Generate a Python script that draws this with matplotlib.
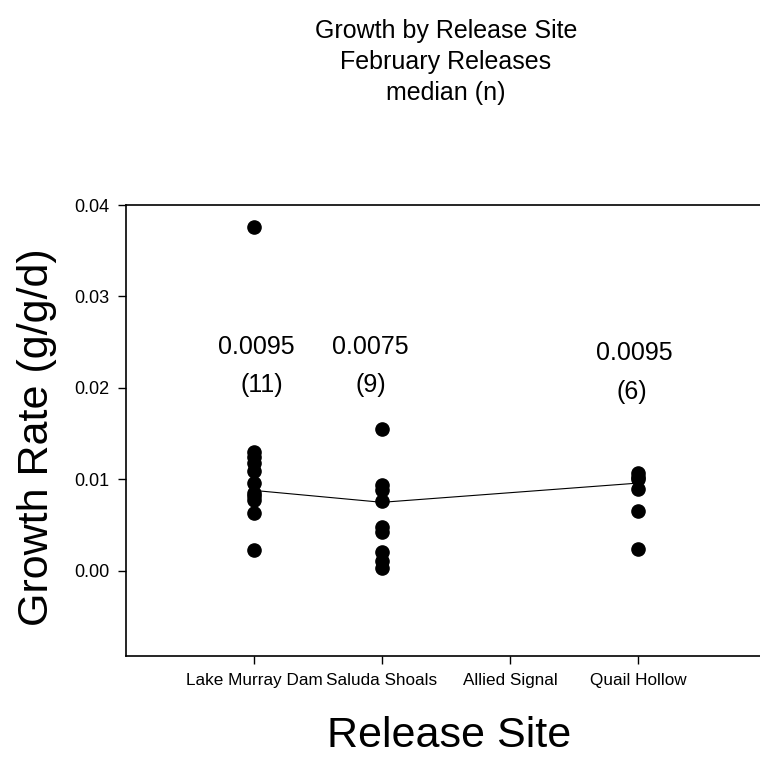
import matplotlib

matplotlib.use('agg')

import matplotlib.pyplot as plt

sites = ['Lake Murray Dam', 'Saluda Shoals', 'Allied Signal', 'Quail Hollow']

lake_murray = [0.0376, 0.0130, 0.0125, 0.0118, 0.0109, 0.0096, 0.0085,
               0.0082, 0.0078, 0.0063, 0.0023]
saluda = [0.0155, 0.0094, 0.0089, 0.0076, 0.0048, 0.0043, 0.0021, 0.0011,
          0.0003]
allied = []
quail = [0.0107, 0.0103, 0.0100, 0.0090, 0.0065, 0.0024]

median_pos = [1, 2, 4]
median_line = [0.0088, 0.0075, 0.0096]

label_pos_med = [1.02, 1.91, 3.97]
label_pos_n = [1.06, 1.91, 3.95]
label_median = ['0.0095', '0.0075', '0.0095']
label_n = ['(11)', '(9)', '(6)']
label_y_med = [0.0245, 0.0245, 0.0238]
label_y_n = [0.0203, 0.0203, 0.0196]

plt.rcParams['font.family'] = ['Liberation Sans', 'DejaVu Sans']

fig = plt.figure(figsize=(7.6, 7.58), dpi=100)
# right spine falls just outside the figure, as in the original
ax = fig.add_axes([126 / 760, 102 / 758, 640 / 760, 451 / 758])

ax.plot(median_pos, median_line, color='black', linewidth=0.8, zorder=2)

for i, vals in enumerate([lake_murray, saluda, allied, quail]):
    ax.plot([i + 1] * len(vals), vals, 'o', color='black', markersize=9.5,
            zorder=3)

for xm, xn, m, n, ym, yn in zip(label_pos_med, label_pos_n, label_median,
                                label_n, label_y_med, label_y_n):
    ax.text(xm, ym, m, ha='center', va='center', fontsize=18)
    ax.text(xn, yn, n, ha='center', va='center', fontsize=18)

ax.set_xlim(0, 5)
ax.set_ylim(-0.0093, 0.04)
ax.set_xticks([1, 2, 3, 4])
ax.set_xticklabels(sites, fontsize=12.3)
ax.set_yticks([0.0, 0.01, 0.02, 0.03, 0.04])
ax.set_yticklabels(['0.00', '0.01', '0.02', '0.03', '0.04'], fontsize=13)
ax.tick_params(direction='out', length=6, width=1, pad=6)
ax.spines['right'].set_visible(False)
for s in ['left', 'top', 'bottom']:
    ax.spines[s].set_linewidth(1.2)

fig.text(446 / 760, 1 - 31 / 758, 'Growth by Release Site', ha='center',
         va='center', fontsize=18)
fig.text(446 / 760, 1 - 62 / 758, 'February Releases', ha='center',
         va='center', fontsize=18)
fig.text(446 / 760, 1 - 93 / 758, 'median (n)', ha='center', va='center',
         fontsize=18)
fig.text(449 / 760, 1 - 736 / 758, 'Release Site', ha='center', va='center',
         fontsize=31)
fig.text(37 / 760, 1 - 437 / 758, 'Growth Rate (g/g/d)', ha='center',
         va='center', rotation=90, fontsize=31)

plt.savefig('out.png')
